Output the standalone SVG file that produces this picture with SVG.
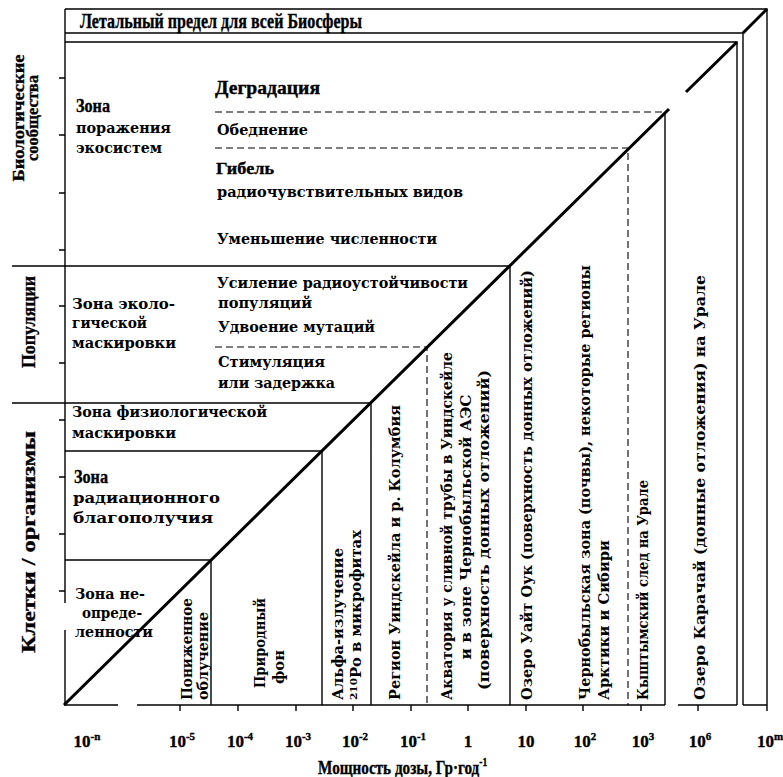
<svg xmlns="http://www.w3.org/2000/svg" width="783" height="777" viewBox="0 0 783 777">
<style>
.ln{stroke:#000;stroke-width:1.4;fill:none}
.dash{stroke-dasharray:7 4;stroke-width:1.1}
.diag{stroke:#000;stroke-width:3;fill:none}
.t{font-family:"Liberation Serif","Times New Roman",serif;font-weight:bold;font-size:17px;fill:#000;stroke:#000;stroke-width:0.35}
.c{font-family:"DejaVu Serif","Liberation Serif",serif;font-weight:bold;font-size:14px;fill:#000}
.ax{font-family:"Liberation Serif","Times New Roman",serif;font-weight:bold;font-size:17px;fill:#000;stroke:#000;stroke-width:0.35;text-anchor:middle}
.sup{font-size:11px}
</style>
<rect width="783" height="777" fill="#fff"/>
<g id="frame">
<path class="ln" d="M65,9 H767 V705 M65,33 H743 V705 M65,42 H737 V705 M65,9 V603 M65,630 V705"/>
<path class="ln" d="M64,705 H118 M137,705 H665 M678,705 H737 M743,705 H767"/>
<path class="ln" d="M180,705 v6 M238,705 v6 M296,705 v6 M353,705 v6 M411,705 v6 M468,705 v6 M526,705 v6 M583,705 v6 M641,705 v6 M698,705 v6 M767,705 v6"/>
<path class="ln" d="M59,78 h6 M59,135 h6 M59,193 h6 M59,250 h6 M59,306 h6 M59,363 h6 M59,420 h6 M59,477 h6 M59,534 h6 M59,591 h6"/>
</g>
<g id="connectors">
<path class="diag" d="M64,705 L669,109 M686,92 L737,42 M743,33 L767,9"/>
<path class="ln" d="M12,266 H510 V705 M12,403 H371 V705 M65,451 H322 V705 M65,560 H211 V705 M665,112 V705"/>
<path class="ln dash" d="M215,347 H427 V705 M215,112 H665 M215,148 H628 V705"/>
</g>
<g id="title-box"><text class="t" x="80" y="28" style="font-size:20px" textLength="282" lengthAdjust="spacingAndGlyphs">Летальный предел для всей Биосферы</text></g>
<g id="axis-labels-left">
<text class="t" transform="translate(24,118) rotate(-90)" text-anchor="middle" textLength="127" lengthAdjust="spacingAndGlyphs">Биологические</text>
<text class="t" transform="translate(38,118) rotate(-90)" text-anchor="middle" textLength="86" lengthAdjust="spacingAndGlyphs">сообщества</text>
<text class="t" style="font-size:19px" transform="translate(35,322) rotate(-90)" text-anchor="middle" textLength="92" lengthAdjust="spacingAndGlyphs">Популяции</text>
<text class="t" style="font-size:19px" transform="translate(35,542) rotate(-90)" text-anchor="middle" textLength="222" lengthAdjust="spacingAndGlyphs">Клетки / организмы</text>
</g>
<g id="zone-damage">
<text class="t" x="76" y="112" style="font-size:18px" textLength="34" lengthAdjust="spacingAndGlyphs">Зона</text>
<text class="c" x="76" y="133" textLength="95" lengthAdjust="spacingAndGlyphs">поражения</text>
<text class="c" x="76" y="153" textLength="86" lengthAdjust="spacingAndGlyphs">экосистем</text>
</g>
<g id="effects-top">
<text class="t" x="215" y="94" style="font-size:18px" textLength="105" lengthAdjust="spacingAndGlyphs">Деградация</text>
<text class="c" x="217" y="135" textLength="91" lengthAdjust="spacingAndGlyphs">Обеднение</text>
<text class="t" x="216" y="174" textLength="58" lengthAdjust="spacingAndGlyphs">Гибель</text>
<text class="c" x="217" y="197" textLength="246" lengthAdjust="spacingAndGlyphs">радиочувствительных видов</text>
<text class="c" x="217" y="244" textLength="220" lengthAdjust="spacingAndGlyphs">Уменьшение численности</text>
</g>
<g id="effects-pop">
<text class="c" x="217" y="288" textLength="251" lengthAdjust="spacingAndGlyphs">Усиление радиоустойчивости</text>
<text class="c" x="218" y="308" textLength="94" lengthAdjust="spacingAndGlyphs">популяций</text>
<text class="c" x="218" y="332" textLength="157" lengthAdjust="spacingAndGlyphs">Удвоение мутаций</text>
<text class="c" x="218" y="367" textLength="107" lengthAdjust="spacingAndGlyphs">Стимуляция</text>
<text class="c" x="218" y="388" textLength="117" lengthAdjust="spacingAndGlyphs">или задержка</text>
</g>
<g id="zone-eco">
<text class="c" x="72" y="309" textLength="103" lengthAdjust="spacingAndGlyphs">Зона эколо-</text>
<text class="c" x="72" y="328" textLength="75" lengthAdjust="spacingAndGlyphs">гической</text>
<text class="c" x="72" y="348" textLength="104" lengthAdjust="spacingAndGlyphs">маскировки</text>
</g>
<g id="zone-phys">
<text class="c" x="72" y="417" textLength="195" lengthAdjust="spacingAndGlyphs">Зона физиологической</text>
<text class="c" x="72" y="438" textLength="104" lengthAdjust="spacingAndGlyphs">маскировки</text>
</g>
<g id="zone-rad">
<text class="t" x="74" y="483" style="font-size:18px" textLength="34" lengthAdjust="spacingAndGlyphs">Зона</text>
<text class="c" x="73" y="503" textLength="147" lengthAdjust="spacingAndGlyphs">радиационного</text>
<text class="c" x="73" y="523" textLength="140" lengthAdjust="spacingAndGlyphs">благополучия</text>
</g>
<g id="zone-unc">
<text class="c" x="75" y="599" textLength="70" lengthAdjust="spacingAndGlyphs">Зона не-</text>
<text class="c" x="82" y="618" textLength="60" lengthAdjust="spacingAndGlyphs">опреде-</text>
<text class="c" x="75" y="637" textLength="78" lengthAdjust="spacingAndGlyphs">ленности</text>
</g>
<g id="sources">
<text class="c" transform="translate(192,700) rotate(-90)" textLength="102" lengthAdjust="spacingAndGlyphs">Пониженное</text>
<text class="c" transform="translate(208,700) rotate(-90)" textLength="88" lengthAdjust="spacingAndGlyphs">облучение</text>
<text class="c" transform="translate(265,688) rotate(-90)" textLength="90" lengthAdjust="spacingAndGlyphs">Природный</text>
<text class="c" transform="translate(284,684) rotate(-90)" textLength="34" lengthAdjust="spacingAndGlyphs">фон</text>
<text class="c" transform="translate(343,700) rotate(-90)" textLength="152" lengthAdjust="spacingAndGlyphs">Альфа-излучение</text>
<text class="c" transform="translate(361,700) rotate(-90)" textLength="170" lengthAdjust="spacingAndGlyphs"><tspan style="font-size:10px" dy="-4">210</tspan><tspan dy="4">Ро в микрофитах</tspan></text>
<text class="c" transform="translate(400,700) rotate(-90)" textLength="295" lengthAdjust="spacingAndGlyphs">Регион Уиндскейла и р. Колумбия</text>
<text class="c" transform="translate(452,700) rotate(-90)" textLength="348" lengthAdjust="spacingAndGlyphs">Акватория у сливной трубы в Уиндскейле</text>
<text class="c" transform="translate(471,527) rotate(-90)" text-anchor="middle" textLength="265" lengthAdjust="spacingAndGlyphs">и в зоне Чернобыльской АЭС</text>
<text class="c" transform="translate(489,530) rotate(-90)" text-anchor="middle" textLength="320" lengthAdjust="spacingAndGlyphs">(поверхность донных отложений)</text>
<text class="c" transform="translate(532,700) rotate(-90)" textLength="430" lengthAdjust="spacingAndGlyphs">Озеро Уайт Оук (поверхность донных отложений)</text>
<text class="c" transform="translate(590,700) rotate(-90)" textLength="435" lengthAdjust="spacingAndGlyphs">Чернобыльская зона (почвы), некоторые регионы</text>
<text class="c" transform="translate(609,700) rotate(-90)" textLength="160" lengthAdjust="spacingAndGlyphs">Арктики и Сибири</text>
<text class="c" transform="translate(648,700) rotate(-90)" textLength="220" lengthAdjust="spacingAndGlyphs">Кыштымский след на Урале</text>
<text class="c" transform="translate(705,700) rotate(-90)" textLength="425" lengthAdjust="spacingAndGlyphs">Озеро Карачай (донные отложения) на Урале</text>
</g>
<g id="ticks">
<text class="ax" x="87" y="747">10<tspan class="sup" dy="-7">-n</tspan></text>
<text class="ax" x="182" y="747">10<tspan class="sup" dy="-7">-5</tspan></text>
<text class="ax" x="240" y="747">10<tspan class="sup" dy="-7">-4</tspan></text>
<text class="ax" x="298" y="747">10<tspan class="sup" dy="-7">-3</tspan></text>
<text class="ax" x="355" y="747">10<tspan class="sup" dy="-7">-2</tspan></text>
<text class="ax" x="413" y="747">10<tspan class="sup" dy="-7">-1</tspan></text>
<text class="ax" x="468" y="747">1</text>
<text class="ax" x="526" y="747">10</text>
<text class="ax" x="585" y="747">10<tspan class="sup" dy="-7">2</tspan></text>
<text class="ax" x="643" y="747">10<tspan class="sup" dy="-7">3</tspan></text>
<text class="ax" x="700" y="747">10<tspan class="sup" dy="-7">6</tspan></text>
<text class="ax" x="770" y="747">10<tspan class="sup" dy="-7">m</tspan></text>
</g>
<g id="axis-title">
<text class="t" transform="translate(318,774) scale(0.8,1)" style="font-size:19px">Мощность дозы, Гр·год<tspan style="font-size:12px" dy="-8">-1</tspan></text>
</g>
</svg>
